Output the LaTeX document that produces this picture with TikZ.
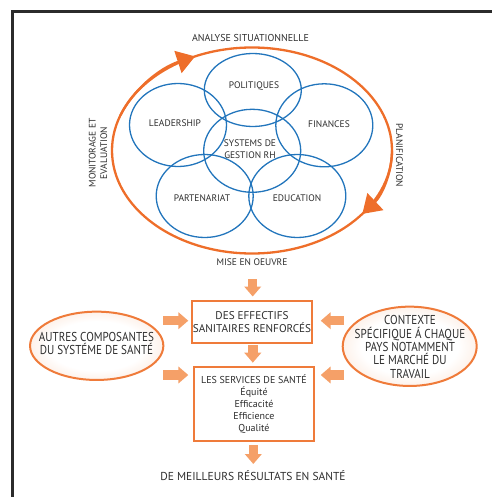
\documentclass[tikz,border=0pt]{standalone}
\usepackage{fontspec}
\setmainfont{PT Sans}
\newfontfamily\narrowsans{PT Sans}[FakeStretch=0.86]
\usetikzlibrary{arrows.meta,shapes.geometric}

\definecolor{ink}{HTML}{2E2E2E}
\definecolor{framegray}{HTML}{2B2B2B}
\definecolor{cycleorange}{HTML}{EE6E2A}
\definecolor{ringblue}{HTML}{2275BC}
\definecolor{boxorange}{HTML}{EF7B3A}
\definecolor{arrowfill}{HTML}{F5A068}
\definecolor{peach}{HTML}{F8C2A0}

% soft glow used inside the two context ellipses
\pgfdeclareradialshading{peachglow}{\pgfpoint{0bp}{0bp}}{%
  color(0bp)=(white); color(18bp)=(white); color(50bp)=(peach)}

\tikzset{
  lbl/.style={text=ink, inner sep=0pt, align=center,
    font=\fontsize{9.5}{11.5}\selectfont},
  ring/.style={ellipse, draw=ringblue, line width=1.3pt, inner sep=0pt,
    minimum width=97pt, minimum height=83pt},
  cycleline/.style={draw=cycleorange, line width=2.3pt},
  cyclehead/.style={cycleline, -{Triangle[length=18pt,width=23pt]}},
  outcome/.style={draw=boxorange, line width=2pt, fill=white, text=ink,
    align=center, inner sep=0pt},
  context/.style={ellipse, draw=boxorange, line width=2pt, shading=peachglow,
    inner sep=0pt},
  contexttext/.style={text=ink, align=center, inner sep=0pt,
    font=\narrowsans\fontsize{12.9}{13.3}\selectfont},
  fatarrow/.style={draw=arrowfill, line width=9.5pt,
    -{Triangle[length=10pt,width=16.5pt]}},
}

\begin{document}
\begin{tikzpicture}[x=1pt,y=-1pt]
\useasboundingbox (0,0) rectangle (492,497);

% page frame, open on the right and at the bottom
\draw[framegray, line width=2.5pt] (12.5,497) -- (12.5,11.5) -- (492,11.5);

% management cycle
\draw[cycleline] (252,150.5) ellipse [x radius=140, y radius=103];
\draw[cyclehead] (252,150.5) ++(200:140 and 103)
  arc [start angle=200, end angle=246, x radius=140, y radius=103];
\draw[cyclehead] (252,150.5) ++(0:140 and 103)
  arc [start angle=0, end angle=38, x radius=140, y radius=103];

\node[lbl, font=\fontsize{10}{11.5}\selectfont] (analyse) at (250.5,38.3) {ANALYSE SITUATIONNELLE};
\node[lbl, rotate=90] (monitor) at (98,153) {MONITORAGE ET\\EVALUATION};
\node[lbl, rotate=-90] (plan) at (399.5,155.5) {PLANIFICATION};
\node[lbl] (mise) at (252,262) {MISE EN OEUVRE};

% overlapping rings of the HR system
\node[ring] (lead) at (178,125) {};
\node[ring] (fin) at (324.3,125.3) {};
\node[ring, minimum height=73pt] (pol) at (252.8,90) {};
\node[ring] (hrm) at (252.2,150.8) {};
\node[ring] (part) at (204.7,196) {};
\node[ring] (edu) at (297.3,196) {};

\node[lbl] at (254,86) {POLITIQUES};
\node[lbl] at (175,123) {LEADERSHIP};
\node[lbl] at (329,124) {FINANCES};
\node[lbl] at (250,149) {SYSTEMS DE\\GESTION RH};
\node[lbl] at (202,198) {PARTENARIAT};
\node[lbl] at (297,198) {EDUCATION};

% results chain
\node[outcome, font=\fontsize{11.2}{13}\selectfont,
  minimum width=120.6pt, minimum height=42pt] (eff) at (252,321.7)
  {DES EFFECTIFS\\SANITAIRES RENFORCÉS};
\node[outcome, font=\fontsize{10}{12}\selectfont,
  minimum width=120pt, minimum height=73.7pt] (serv) at (254,404.2)
  {LES SERVICES DE SANTÉ\\Équité\\Efficacité\\Efficience\\Qualité};
\node[lbl, font=\fontsize{11.5}{13}\selectfont] (result) at (253,476)
  {DE MEILLEURS RÉSULTATS EN SANTÉ};

% surrounding influences
\node[context, minimum width=133.3pt, minimum height=68.3pt] (autres) at (96.7,345.8) {};
\node[contexttext] at (96.5,343.8) {AUTRES COMPOSANTES\\DU SYSTÉME DE SANTÉ};
\node[context, minimum width=134pt, minimum height=79.3pt] (contexte) at (409.7,346.3) {};
\node[contexttext] at (410,347)
  {CONTEXTE\\SPÉCIFIQUE Á CHAQUE\\PAYS NOTAMMENT\\LE MARCHÉ DU\\TRAVAIL};

% block arrows
\coordinate (d1s) at (252.7,279);   \coordinate (d1e) at (252.7,296.5);
\coordinate (d2s) at (252.8,345);   \coordinate (d2e) at (252.8,362.7);
\coordinate (d3s) at (253.3,445);   \coordinate (d3e) at (253.3,464);
\coordinate (l1s) at (163.3,320.7); \coordinate (l1e) at (188.3,320.7);
\coordinate (l2s) at (163.3,375);   \coordinate (l2e) at (188.3,375);
\coordinate (r1s) at (344,320.7);   \coordinate (r1e) at (320.7,320.7);
\coordinate (r2s) at (344,375);     \coordinate (r2e) at (320.7,375);

\draw[fatarrow] (d1s) -- (d1e);
\draw[fatarrow] (d2s) -- (d2e);
\draw[fatarrow] (d3s) -- (d3e);
\draw[fatarrow] (l1s) -- (l1e);
\draw[fatarrow] (l2s) -- (l2e);
\draw[fatarrow] (r1s) -- (r1e);
\draw[fatarrow] (r2s) -- (r2e);
\end{tikzpicture}
\end{document}
